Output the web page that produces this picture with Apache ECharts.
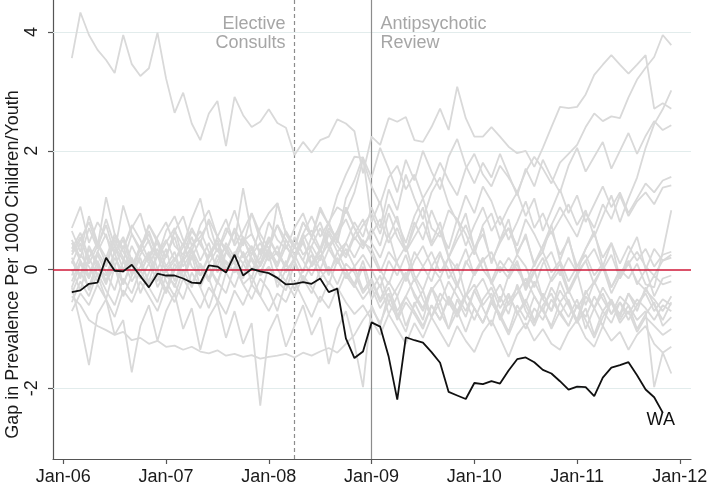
<!DOCTYPE html>
<html>
<head>
<meta charset="utf-8">
<script src="https://cdn.jsdelivr.net/npm/echarts@6/dist/echarts.min.js"></script>
<style>
html, body { margin: 0; padding: 0; background: #fff; }
#chart { width: 709px; height: 489px; }
</style>
</head>
<body>
<div id="chart"></div>
<script>
// month index on the x axis: 0 = Jan-06
const tickMonths = [0, 12, 24, 36, 48, 60, 72]
const tickLabels = ['Jan-06', 'Jan-07', 'Jan-08', 'Jan-09', 'Jan-10', 'Jan-11', 'Jan-12']
const yTicks = [-2, 0, 2, 4]
const firstMonth = 1 // Feb-06
const electiveMonth = 27 // Apr-08
const reviewMonth = 36 // Jan-09

// WA gap, Feb-06 .. Nov-11
const waGap = [
	-0.38, -0.35, -0.24, -0.22, 0.20, -0.02, -0.03, 0.08, -0.11, -0.30, -0.07, -0.10,
	-0.10, -0.15, -0.22, -0.23, 0.07, 0.05, -0.05, 0.25, -0.10, 0.01, -0.03, -0.06,
	-0.14, -0.25, -0.24, -0.21, -0.24, -0.15, -0.38, -0.32, -1.16, -1.49, -1.38, -0.89,
	-0.96, -1.47, -2.19, -1.14, -1.19, -1.23, -1.39, -1.57, -2.06, -2.12, -2.18, -1.91,
	-1.93, -1.88, -1.92, -1.70, -1.51, -1.48, -1.56, -1.69, -1.75, -1.88, -2.02, -1.97,
	-1.98, -2.13, -1.82, -1.65, -1.61, -1.56, -1.78, -2.02, -2.15, -2.41,
]

// placebo gaps of the other states, Feb-06 .. Dec-11
const placeboTop = [
	3.56, 4.33, 3.95, 3.70, 3.53, 3.31, 3.95, 3.46, 3.26, 3.39, 3.99, 3.22, 2.64, 2.98, 2.46, 2.18, 2.63, 2.84,
	2.08, 2.91, 2.60, 2.40, 2.49, 2.70, 2.47, 2.39, 1.93, 2.15, 1.97, 2.18, 2.24, 2.53, 2.46, 2.33, 1.62,
	2.24, 2.10, 2.55, 2.49, 2.57, 2.18, 2.15, 2.40, 2.71, 2.35, 3.08, 2.55, 2.24, 2.24, 2.40, 2.24, 2.07, 1.96,
	2.00, 1.73, 2.05, 2.40, 2.74, 2.72, 2.74, 2.95, 3.28, 3.45, 3.61, 3.45, 3.30, 3.45, 3.61, 2.71, 2.80, 2.71,
]
const placeboA = [
	0.35, 0.62, 0.20, 0.45, 0.10, 0.55, 0.30, 0.05, 0.40, 0.65, 0.25, 0.50, 0.15, 0.38, 0.70, 0.42, 0.20, 0.55,
	0.35, 0.12, 0.48, 0.60, 0.28, 0.45, 0.75, 0.40, 0.18, 0.52, 0.66, 0.35, 0.80, 1.05, 0.95, 1.30, 1.85,
	1.40, 1.10, 1.55, 1.75, 1.35, 1.60, 1.20, 1.45, 1.80, 1.50, 1.25, 1.70, 1.95, 1.60, 1.40, 1.75, 1.55, 1.30,
	1.65, 1.90, 1.70, 1.45, 1.80, 1.95, 2.10, 2.40, 2.63, 2.50, 2.58, 2.55, 2.90, 3.20, 3.40, 3.58, 3.95, 3.78,
]
const placeboB = [
	-0.20, 0.15, -0.35, 0.05, -0.10, 0.30, -0.25, 0.10, -0.05, 0.25, -0.30, 0.00, 0.20, -0.15, 0.35, 0.05, -0.20, 0.15,
	0.40, 0.10, -0.10, 0.25, 0.45, 0.15, 0.30, 0.05, 0.55, 0.25, 0.40, 0.70, 0.35, 0.60, 0.85, 0.50, 0.75,
	0.95, 0.60, 1.10, 0.80, 0.45, 0.90, 1.20, 0.70, 0.55, 1.00, 0.85, 0.40, 0.75, 1.05, 0.65, 0.90, 0.50, 0.80,
	1.15, 0.70, 0.95, 0.60, 0.85, 1.10, 0.75, 1.00, 0.55, 0.90, 1.25, 0.80, 1.20, 1.55, 2.05, 2.45, 2.70, 3.02,
]
const placeboC = [
	0.50, 0.20, 0.70, 0.35, 0.85, 0.40, 0.15, 0.60, 0.30, 0.75, 0.45, 0.20, 0.65, 0.90, 0.40, 0.55, 0.80, 0.30,
	0.60, 1.00, 0.50, 0.25, 0.70, 0.95, 1.12, 0.60, 0.35, 0.80, 0.55, 1.05, 0.75, 1.25, 1.60, 1.90, 1.88,
	1.55, 2.05, 1.70, 1.30, 1.85, 1.50, 2.00, 1.65, 1.35, 1.90, 2.20, 1.75, 1.45, 1.80, 1.55, 1.95, 1.60, 1.25,
	1.70, 1.40, 1.85, 1.55, 1.30, 1.75, 2.05, 1.65, 1.90, 2.15, 1.70, 2.00, 2.30, 1.95, 2.25, 2.50, 2.35, 2.43,
]
const placeboD = [
	0.10, 0.45, -0.15, 0.30, 0.60, 0.05, 0.40, -0.10, 0.25, 0.50, 0.00, 0.35, -0.20, 0.20, 0.55, 0.15, 0.45, -0.05,
	0.30, 0.65, 0.20, 0.40, 0.05, 0.35, 0.10, 0.50, 0.25, -0.05, 0.40, 0.15, 0.60, 0.30, 0.45, 0.80, 0.55,
	1.05, 0.70, 1.35, 1.00, 1.60, 1.20, 0.85, 1.30, 1.55, 1.10, 0.80, 1.25, 0.95, 1.40, 1.15, 0.75, 1.05, 1.30,
	0.90, 1.20, 0.65, 1.00, 1.35, 0.95, 1.25, 0.80, 1.10, 1.40, 1.05, 1.30, 0.95, 1.20, 1.45, 1.30, 1.50, 1.56,
]
const placeboE = [
	-0.40, -0.05, -0.30, 0.15, -0.20, 0.05, -0.45, -0.10, 0.20, -0.25, 0.00, -0.35, 0.10, -0.15, 0.25, -0.30, 0.05, -0.20,
	0.15, -0.05, 0.30, -0.25, 0.10, 0.35, 0.00, -0.20, 0.20, 0.45, 0.10, 0.30, 0.65, 0.40, 0.20, 0.55, 0.35,
	0.70, 0.40, 0.95, 0.55, 0.30, 0.80, 0.50, 1.00, 0.65, 0.35, 0.85, 0.60, 0.25, 0.75, 0.95, 0.50, 0.70, 0.40,
	0.85, 0.60, 0.30, 0.75, 1.05, 0.80, 0.55, 0.95, 0.70, 1.10, 0.85, 1.25, 0.90, 1.15, 1.30, 1.10, 1.38, 1.42,
]
const placeboF = [
	0.20, -0.10, 0.40, 0.10, -0.20, 0.30, 0.55, 0.15, -0.05, 0.25, 0.45, 0.05, 0.30, -0.15, 0.20, 0.50, 0.10, 0.35,
	0.00, 0.25, 0.55, 0.15, -0.10, 0.30, 0.05, 0.40, 0.15, 0.60, 0.30, 0.00, 0.35, 0.10, 0.45, 0.20, 0.50,
	0.25, -0.05, 0.30, 0.10, -0.20, 0.15, 0.40, 0.05, -0.15, 0.20, 0.00, 0.35, -0.10, 0.15, 0.30, -0.05, 0.20, 0.00,
	-0.25, 0.10, 0.30, -0.05, 0.15, -0.20, 0.05, 0.25, -0.10, 0.10, -0.30, 0.00, -0.15, 0.10, -0.25, -0.30, 0.30, 1.00,
]
const placeboG = [
	0.65, 0.30, 0.90, 0.45, 0.20, 0.60, 0.35, 0.75, 0.50, 0.15, 0.55, 0.80, 0.40, 0.25, 0.65, 0.45, 0.85, 0.55,
	0.30, 0.70, 0.40, 0.95, 0.60, 0.35, 0.75, 0.50, 0.25, 0.60, 0.90, 0.55, 0.80, 0.45, 1.05, 0.70, 0.40,
	0.60, 0.85, 0.45, 0.70, 0.30, 0.55, 0.80, 0.40, 0.65, 0.20, 0.50, 0.75, 0.35, 0.60, 0.15, 0.45, 0.70, 0.30,
	0.55, 0.10, 0.40, 0.65, 0.25, 0.50, 0.05, 0.35, 0.60, 0.20, 0.45, 0.10, 0.40, 0.15, 0.35, 0.05, 0.25, 0.30,
]
const placeboH = [
	-0.10, 0.25, 0.05, -0.20, 0.15, 0.40, 0.00, 0.20, -0.15, 0.10, 0.35, -0.05, 0.15, 0.45, 0.05, -0.10, 0.25, 0.50,
	0.10, -0.05, 0.30, 0.00, 0.20, 0.55, 0.25, 0.05, 0.40, 0.15, -0.10, 0.20, 0.45, 0.10, 0.35, 0.05, 0.25,
	0.00, -0.30, 0.15, -0.10, 0.25, -0.20, 0.05, 0.30, -0.05, 0.20, -0.25, 0.10, 0.35, 0.00, -0.20, 0.15, -0.05, 0.25,
	0.05, -0.30, 0.10, 0.30, -0.10, 0.20, -0.05, 0.15, 0.35, 0.00, 0.25, -0.15, 0.10, 0.30, 0.05, -0.10, 0.15, 0.20,
]
const placeboI = [
	0.30, 0.55, 0.10, 0.40, 0.75, 0.25, 0.50, 0.05, 0.35, 0.60, 0.20, 0.45, 0.70, 0.15, 0.40, 0.65, 0.30, 0.05,
	0.45, 0.20, 0.55, 0.35, 0.10, 0.50, 0.25, 0.65, 0.40, 0.15, 0.55, 0.30, 0.70, 0.50, 0.25, 0.60, 0.85,
	0.45, 0.20, 0.60, 0.10, -0.15, 0.30, 0.05, -0.20, 0.25, 0.00, -0.30, 0.15, -0.10, 0.20, -0.25, 0.05, -0.15, 0.10,
	-0.35, -0.05, 0.20, -0.20, 0.00, -0.40, -0.10, 0.15, -0.25, 0.05, -0.30, -0.05, 0.10, -0.20, -0.35, -0.10, -0.25, -0.20,
]
const placeboJ = [
	-0.30, 0.10, -0.15, 0.25, -0.05, -0.35, 0.15, -0.20, 0.05, 0.30, -0.10, -0.40, 0.00, 0.20, -0.25, 0.10, -0.15, 0.25,
	-0.05, -0.30, 0.10, 0.35, -0.10, 0.05, -0.20, 0.15, -0.35, 0.00, 0.25, -0.15, 0.05, -0.25, 0.10, -0.05, -0.40,
	-0.20, -0.55, -0.30, -0.70, -0.45, -0.15, -0.50, -0.80, -0.40, -0.60, -0.25, -0.55, -0.85, -0.50, -0.30, -0.65, -0.40, -0.75,
	-0.55, -0.20, -0.50, -0.70, -0.35, -0.60, -0.90, -0.45, -0.65, -0.30, -0.55, -0.75, -0.40, -0.60, -0.35, -0.50, -0.70, -0.45,
]
const placeboK = [
	0.00, -0.35, 0.20, -0.10, -0.50, 0.05, -0.25, 0.15, -0.40, -0.05, 0.25, -0.20, -0.45, 0.00, -0.30, 0.10, -0.15, -0.55,
	-0.05, 0.15, -0.25, -0.10, -0.45, 0.05, -0.20, -0.35, 0.10, -0.15, -0.40, 0.00, -0.25, 0.15, -0.10, -0.30, 0.05,
	-0.50, -0.25, -0.75, -0.45, -0.95, -0.60, -0.35, -0.80, -0.55, -1.00, -0.70, -0.40, -0.65, -0.90, -0.50, -0.75, -1.05, -0.60,
	-0.85, -0.45, -0.70, -0.95, -0.55, -0.80, -0.50, -1.00, -0.65, -0.40, -0.75, -0.55, -0.85, -0.60, -0.40, -0.70, -0.50, -0.60,
]
const placeboL = [
	0.45, 0.15, -0.10, 0.30, 0.05, 0.50, 0.20, -0.05, 0.35, 0.10, -0.20, 0.25, 0.55, 0.05, 0.30, -0.10, 0.20, 0.45,
	0.00, 0.30, 0.10, -0.15, 0.35, 0.15, 0.40, -0.05, 0.20, 0.50, 0.05, 0.25, -0.10, 0.30, 0.00, -0.25, 0.15,
	-0.35, -0.10, -0.55, -0.30, -0.05, -0.45, -0.70, -0.35, -0.15, -0.55, -0.80, -0.45, -0.25, -0.60, -0.40, -0.85, -0.55, -0.30,
	-0.70, -0.95, -0.60, -0.40, -0.75, -0.50, -0.90, -0.65, -1.10, -0.70, -0.50, -0.85, -0.60, -1.00, -0.75, -0.55, -0.95, -0.80,
]
const placeboM = [
	-0.55, -0.20, -0.45, -0.05, -0.35, -0.60, -0.15, -0.40, 0.00, -0.30, -0.55, -0.10, -0.25, -0.50, -0.05, -0.30, -0.65, -0.20,
	-0.40, 0.05, -0.25, -0.50, -0.15, -0.35, -0.70, -0.20, -0.45, -0.10, -0.30, -0.55, -0.20, -0.40, -0.05, -0.25, -0.50,
	-0.30, -0.65, -0.40, -0.85, -0.55, -0.75, -1.00, -0.60, -0.85, -0.45, -0.70, -1.05, -0.65, -0.90, -0.55, -0.80, -1.10, -0.75,
	-0.50, -0.85, -0.65, -1.00, -0.70, -0.95, -0.60, -0.85, -1.15, -0.80, -0.55, -0.90, -0.70, -1.05, -0.80, -0.95, -1.10, -1.00,
]
const placeboN = [
	-0.70, -0.40, -0.60, -0.25, -0.50, -0.80, -0.35, -0.55, -0.20, -0.45, -0.70, -0.30, -0.55, -0.15, -0.40, -0.65, -0.30, -0.50,
	-0.75, -0.35, -0.60, -0.25, -0.45, -0.70, -0.40, -0.55, -0.20, -0.50, -0.80, -0.45, -0.65, -0.30, -0.55, -0.75, -0.60,
	-0.85, -1.10, -0.75, -1.00, -1.25, -0.90, -1.15, -0.80, -1.05, -1.30, -0.95, -1.20, -1.39, -1.05, -0.85, -1.15, -1.47, -1.10,
	-0.90, -1.20, -1.00, -1.25, -1.35, -1.05, -0.85, -1.15, -1.30, -0.95, -1.20, -1.05, -1.35, -1.10, -0.95, -1.25, -1.40, -1.30,
]
const placeboO = [
	0.15, -0.15, 0.35, 0.05, -0.25, 0.20, -0.05, 0.40, 0.10, -0.20, 0.25, 0.00, -0.30, 0.15, 0.35, -0.10, 0.05, -0.25,
	0.30, 0.10, -0.15, 0.20, -0.05, 0.25, -0.30, 0.00, 0.15, -0.20, 0.10, 0.35, -0.05, 0.20, -0.15, 0.05, -0.35,
	-0.15, -0.50, -0.20, -0.45, -0.10, -0.40, -0.65, -0.30, -0.55, -0.20, -0.45, -0.70, -0.35, -0.15, -0.50, -0.25, -0.60, -0.40,
	-0.15, -0.45, -0.70, -0.30, -0.55, -0.35, -0.65, -0.40, -0.20, -0.50, -0.75, -0.45, -0.60, -0.85, -0.70, -1.98, -1.40, -1.75,
]
const placeboLowSmooth = [
	-0.45, -0.60, -0.85, -0.95, -1.02, -1.10, -1.05, -1.19, -1.15, -1.25, -1.20, -1.30, -1.28, -1.35, -1.30, -1.38, -1.41, -1.36,
	-1.45, -1.42, -1.47, -1.44, -1.50, -1.47, -1.45, -1.42, -1.48, -1.40, -1.45, -1.38, -1.32, -1.40, -1.25, -1.10, -0.85,
	-0.65, -0.90, -0.55, -0.80, -0.45, -0.70, -0.95, -0.60, -0.85, -0.50, -0.75, -0.40, -0.65, -0.90, -0.55, -0.80, -0.45, -0.70,
	-1.00, -0.65, -0.85, -0.50, -0.75, -0.95, -0.60, -0.80, -0.45, -0.70, -0.90, -0.55, -0.75, -0.50, -0.65, -0.85, -0.60, -0.70,
]
const placeboLowSpiky = [
	-0.30, -0.90, -1.61, -0.75, -0.50, -1.10, -0.85, -1.73, -0.95, -0.60, -1.20, -0.70, -0.40, -1.00, -0.65, -1.35, -0.80, -0.55,
	-1.15, -0.70, -1.25, -0.90, -2.29, -1.05, -0.75, -1.30, -0.95, -0.60, -1.10, -0.80, -1.59, -1.00, -0.70, -1.25, -1.98,
	-0.60, -0.95, -0.40, -0.75, -1.05, -0.55, -0.85, -0.30, -0.70, -1.00, -0.50, -0.80, -0.35, -0.65, -0.95, -0.45, -0.75, -0.25,
	-0.60, -0.90, -0.40, -0.70, -0.20, -0.55, -0.85, -0.35, -0.65, -0.95, -0.50, -0.80, -0.40, -0.70, -0.30, -0.60, -0.85, -0.55,
]
const placeboP = [
	0.70, 1.06, 0.45, 0.80, 0.55, 0.30, 1.08, 0.60, 0.35, 0.75, 0.50, 0.20, 0.65, 0.40, 0.85, 1.20, 0.55, 0.30,
	0.70, 0.45, 1.37, 0.60, 0.25, 0.80, 0.50, 0.35, 0.70, 0.95, 0.55, 0.80, 0.40, 0.65, 1.00, 0.70, 0.45,
	0.35, 0.00, -0.25, 0.15, 0.40, -0.10, -0.35, 0.05, 0.30, -0.15, 0.10, -0.45, -0.05, 0.20, -0.20, -0.55, -0.10, 0.15,
	-0.30, 0.00, -0.50, -0.15, 0.10, -0.35, -0.05, -0.60, -0.20, 0.05, -0.40, -0.10, 0.15, -0.25, 0.00, -0.45, -0.15, -0.10,
]
const placeboQ = [
	0.25, 0.50, 0.80, 0.40, 1.22, 0.60, 0.35, 0.70, 0.95, 0.45, 0.20, 0.65, 0.90, 0.50, 0.30, 0.75, 1.00, 0.55,
	0.85, 0.40, 0.65, 0.95, 0.50, 0.25, 1.12, 0.60, 0.40, 0.80, 0.55, 1.00, 0.75, 0.50, 1.20, 1.50, 1.90,
	0.80, 1.15, 0.55, 0.90, 0.30, 0.70, 1.05, 0.45, 0.80, 0.20, 0.60, 0.95, 0.35, 0.70, 0.10, 0.50, 0.85, 0.25,
	0.60, 0.05, 0.40, 0.75, 0.15, 0.55, -0.05, 0.35, 0.65, 0.05, 0.45, -0.15, 0.25, 0.55, 0.00, 0.35, 0.15, 0.25,
]

const placeboList = [
	placeboTop, placeboA, placeboB, placeboC, placeboD, placeboE, placeboF, placeboG, placeboH, placeboI,
	placeboJ, placeboK, placeboL, placeboM, placeboN, placeboO, placeboLowSmooth, placeboLowSpiky, placeboP, placeboQ,
]

const font = "'Liberation Sans', Arial, sans-serif"
const toPoints = (arr) => arr.map((v, i) => [firstMonth + i, v])

const charEle = document.getElementById('chart')
let myChart = echarts.init(charEle)

let seriesList = []
// grid lines and event lines, under the state lines
seriesList.push({
	type: 'line',
	data: [],
	silent: true,
	markLine: {
		z: 1,
		silent: true,
		symbol: 'none',
		label: { show: false },
		animation: false,
		data: [
			...yTicks.filter((v) => v !== 0).map((v) => ({ yAxis: v, lineStyle: { color: '#e2ecec', width: 1, type: 'solid' } })),
			{ xAxis: electiveMonth, lineStyle: { color: '#8c8c8c', width: 1.2, type: [4, 3] } },
			{ xAxis: reviewMonth, lineStyle: { color: '#8c8c8c', width: 1.2, type: 'solid' } },
		],
	},
})
placeboList.forEach((arr) => {
	seriesList.push({
		type: 'line',
		data: toPoints(arr),
		symbol: 'none',
		z: 2,
		lineStyle: { color: '#d9d9d9', width: 1.8 },
		silent: true,
	})
})
// zero line
seriesList.push({
	type: 'line',
	data: [],
	silent: true,
	markLine: {
		z: 3,
		silent: true,
		symbol: 'none',
		label: { show: false },
		animation: false,
		data: [{ yAxis: 0, lineStyle: { color: '#cf1838', width: 1.5, type: 'solid' } }],
	},
})
seriesList.push({
	name: 'WA',
	type: 'line',
	data: toPoints(waGap),
	symbol: 'none',
	z: 4,
	lineStyle: { color: '#111111', width: 1.8 },
})

let option = {
	animation: false,
	grid: { left: 53, right: 18, top: 0, bottom: 30, outerBoundsMode: 'none', containLabel: false },
	xAxis: {
		type: 'value',
		min: -1.2,
		max: 73.3,
		axisLine: { onZero: false, lineStyle: { color: '#555', width: 1.2 } },
		axisTick: { customValues: tickMonths, length: 5, lineStyle: { color: '#555', width: 1.2 } },
		axisLabel: {
			customValues: tickMonths,
			formatter: (v) => tickLabels[tickMonths.indexOf(v)] || '',
			color: '#1a1a1a',
			fontSize: 18,
			fontFamily: font,
			margin: 9,
		},
		splitLine: { show: false },
	},
	yAxis: {
		type: 'value',
		min: -3.19,
		max: 4.54,
		name: 'Gap in Prevalence Per 1000 Children/Youth',
		nameLocation: 'middle',
		nameRotate: 90,
		nameGap: 31,
		nameMoveOverlap: false,
		nameTextStyle: { color: '#1a1a1a', fontSize: 18, fontFamily: font, padding: [0, 70, 0, 0] },
		axisLine: { show: true, onZero: false, lineStyle: { color: '#555', width: 1.2 } },
		axisTick: { show: true, customValues: yTicks, length: 5, lineStyle: { color: '#555', width: 1.2 } },
		axisLabel: {
			customValues: yTicks,
			rotate: 90,
			color: '#1a1a1a',
			fontSize: 18,
			fontFamily: font,
			margin: 12,
		},
		splitLine: { show: false },
	},
	series: seriesList,
}
myChart.setOption(option)

// annotations, anchored through the data coordinates
const topY = 4.54
const elective = myChart.convertToPixel({ gridIndex: 0 }, [electiveMonth, topY])
const review = myChart.convertToPixel({ gridIndex: 0 }, [reviewMonth, topY])
const waEnd = myChart.convertToPixel({ gridIndex: 0 }, [firstMonth + waGap.length - 1, waGap[waGap.length - 1]])
myChart.setOption({
	graphic: [
		{
			type: 'text',
			x: elective[0] - 9,
			y: elective[1] + 15,
			style: { text: 'Elective\nConsults', fill: '#a6a6a6', font: '18px ' + font, align: 'right', lineHeight: 19 },
		},
		{
			type: 'text',
			x: review[0] + 9,
			y: review[1] + 15,
			style: { text: 'Antipsychotic\nReview', fill: '#a6a6a6', font: '18px ' + font, align: 'left', lineHeight: 19 },
		},
		{
			type: 'text',
			x: waEnd[0] - 2,
			y: waEnd[1] - 2,
			style: { text: 'WA', fill: '#111', font: '18px ' + font, align: 'center' },
		},
	],
})
</script>
</body>
</html>
